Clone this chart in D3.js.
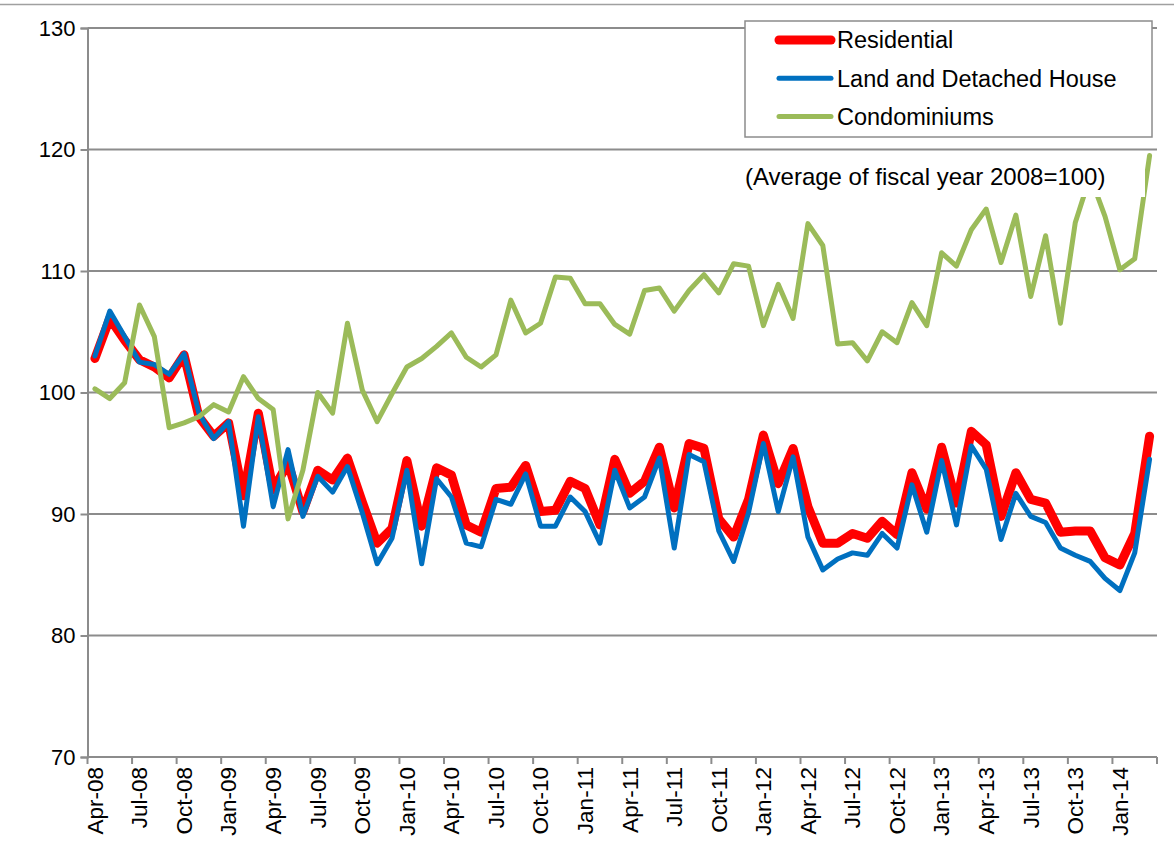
<!DOCTYPE html>
<html>
<head>
<meta charset="utf-8">
<script src="https://cdn.jsdelivr.net/npm/d3@7"></script>
<style>
  body { margin: 0; background: #fff; }
  text { font-family: 'Liberation Sans', Arial, sans-serif; fill: #000; }
</style>
</head>
<body>
<script>
// monthly index, Apr-08 .. Mar-14 (average of FY2008 = 100)
var residential = [
  102.8, 106.1, 104.3, 102.7, 102.1, 101.2, 103.1, 98.0, 96.4, 97.5, 91.5, 98.3,
  92.0, 94.2, 90.2, 93.6, 92.8, 94.6, 91.0, 87.6, 88.8, 94.4, 89.0, 93.8,
  93.2, 89.1, 88.5, 92.1, 92.2, 94.0, 90.2, 90.3, 92.7, 92.1, 89.1, 94.5,
  91.7, 92.7, 95.5, 90.5, 95.8, 95.4, 89.6, 88.1, 91.2, 96.5, 92.5, 95.4,
  90.6, 87.6, 87.6, 88.4, 88.0, 89.4, 88.3, 93.4, 90.4, 95.5, 90.9, 96.8,
  95.7, 89.8, 93.4, 91.2, 90.9, 88.5, 88.6, 88.6, 86.4, 85.8, 88.4, 96.4
];
var landHouse = [
  103.0, 106.7, 104.6, 102.5, 102.3, 101.5, 103.2, 98.3, 96.2, 97.6, 89.0, 98.0,
  90.6, 95.3, 89.8, 93.1, 91.8, 93.9, 90.1, 85.9, 88.0, 93.6, 85.9, 92.9,
  91.4, 87.6, 87.3, 91.2, 90.8, 93.3, 89.0, 89.0, 91.4, 90.2, 87.6, 93.6,
  90.5, 91.4, 94.6, 87.2, 94.9, 94.3, 88.6, 86.1, 90.1, 95.8, 90.2, 94.7,
  88.1, 85.4, 86.3, 86.8, 86.6, 88.4, 87.2, 92.4, 88.5, 94.4, 89.1, 95.6,
  93.7, 87.9, 91.7, 89.8, 89.3, 87.2, 86.6, 86.1, 84.7, 83.7, 86.8, 94.5
];
var condos = [
  100.3, 99.5, 100.8, 107.2, 104.6, 97.1, 97.5, 98.0, 99.0, 98.4, 101.3, 99.5,
  98.6, 89.6, 93.6, 100.0, 98.3, 105.7, 100.2, 97.6, 99.9, 102.1, 102.8, 103.8,
  104.9, 102.9, 102.1, 103.1, 107.6, 104.9, 105.7, 109.5, 109.4, 107.3, 107.3, 105.6,
  104.8, 108.4, 108.6, 106.7, 108.4, 109.7, 108.2, 110.6, 110.4, 105.5, 108.9, 106.1,
  113.9, 112.1, 104.0, 104.1, 102.6, 105.0, 104.1, 107.4, 105.5, 111.5, 110.4, 113.4,
  115.1, 110.7, 114.6, 107.9, 112.9, 105.7, 114.0, 117.8, 114.5, 110.1, 111.0, 119.5
];
var tickLabels = ['Apr-08', 'Jul-08', 'Oct-08', 'Jan-09', 'Apr-09', 'Jul-09', 'Oct-09', 'Jan-10',
  'Apr-10', 'Jul-10', 'Oct-10', 'Jan-11', 'Apr-11', 'Jul-11', 'Oct-11', 'Jan-12',
  'Apr-12', 'Jul-12', 'Oct-12', 'Jan-13', 'Apr-13', 'Jul-13', 'Oct-13', 'Jan-14'];
var yTicks = [70, 80, 90, 100, 110, 120, 130];

var months = d3.timeMonths(new Date(2008, 3, 1), new Date(2014, 3, 1))
  .map(d3.timeFormat('%b-%y'));

var series = [
  { name: 'Residential', values: residential, color: '#ff0000', width: 9 },
  { name: 'Land and Detached House', values: landHouse, color: '#0070c0', width: 5 },
  { name: 'Condominiums', values: condos, color: '#9bbb59', width: 5 }
];

var width = 1174, height = 867;
var plotLeft = 87.5, plotRight = 1157, plotTop = 28, plotBottom = 757;

var svg = d3.select('body').append('svg')
  .attr('width', width)
  .attr('height', height);

var x = d3.scaleBand()
  .domain(months)
  .range([plotLeft, plotRight])
  .padding(0);

var y = d3.scaleLinear()
  .domain([70, 130])
  .range([plotBottom, plotTop]);

var cx = d => x(d) + x.bandwidth() / 2;

// top border of chart area
svg.append('line')
  .attr('x1', 0).attr('x2', width)
  .attr('y1', 4.5).attr('y2', 4.5)
  .attr('stroke', '#a0a0a0').attr('stroke-width', 1.5);

// gridlines
svg.append('g')
  .selectAll('line')
  .data(yTicks.slice(1))
  .join('line')
  .attr('x1', plotLeft).attr('x2', plotRight)
  .attr('y1', d => y(d)).attr('y2', d => y(d))
  .attr('stroke', '#8c8c8c').attr('stroke-width', 2);

// y axis
var yAxis = d3.axisLeft(y).tickValues(yTicks).tickSize(7).tickPadding(5);
var yAxisGroup = svg.append('g')
  .attr('transform', 'translate(' + plotLeft + ',0)')
  .call(yAxis);
yAxisGroup.select('.domain').attr('stroke', '#8c8c8c').attr('stroke-width', 2);
yAxisGroup.selectAll('.tick line').attr('stroke', '#8c8c8c').attr('stroke-width', 2);
yAxisGroup.selectAll('.tick text')
  .style('font-family', "'Liberation Sans', Arial, sans-serif")
  .style('font-size', '22px')
  .attr('fill', '#000');

// x axis: line, ticks between categories, rotated labels
var xAxisGroup = svg.append('g');
xAxisGroup.append('line')
  .attr('x1', plotLeft).attr('x2', plotRight)
  .attr('y1', plotBottom).attr('y2', plotBottom)
  .attr('stroke', '#8c8c8c').attr('stroke-width', 2);

var tickPos = months.filter((m, i) => i % 3 === 0).map(m => x(m)).concat([plotRight]);
xAxisGroup.selectAll('line.tk')
  .data(tickPos)
  .join('line')
  .attr('class', 'tk')
  .attr('x1', d => d).attr('x2', d => d)
  .attr('y1', plotBottom).attr('y2', plotBottom + 7)
  .attr('stroke', '#8c8c8c').attr('stroke-width', 2);

xAxisGroup.selectAll('text')
  .data(tickLabels)
  .join('text')
  .attr('transform', d => 'translate(' + cx(d) + ',' + (plotBottom + 10) + ') rotate(-90)')
  .attr('text-anchor', 'end')
  .attr('dy', '0.35em')
  .style('font-size', '22.5px')
  .text(d => d);

// lines
var line = d3.line()
  .x((d, i) => cx(months[i]))
  .y(d => y(d));

series.forEach(function (s) {
  svg.append('path')
    .datum(s.values)
    .attr('fill', 'none')
    .attr('stroke', s.color)
    .attr('stroke-width', s.width)
    .attr('stroke-linejoin', 'round')
    .attr('stroke-linecap', 'round')
    .attr('d', line);
});

// note box
svg.append('rect')
  .attr('x', 740).attr('y', 154)
  .attr('width', 405).attr('height', 43)
  .attr('fill', '#fff');
svg.append('text')
  .attr('x', 745).attr('y', 185)
  .style('font-size', '24px')
  .text('(Average of fiscal year 2008=100)');

// legend
var legend = svg.append('g');
legend.append('rect')
  .attr('x', 745).attr('y', 21)
  .attr('width', 407).attr('height', 116)
  .attr('fill', '#fff')
  .attr('stroke', '#8c8c8c').attr('stroke-width', 1.5);

var rows = legend.selectAll('g.row')
  .data(series)
  .join('g')
  .attr('class', 'row')
  .attr('transform', (d, i) => 'translate(0,' + (40 + i * 38.3) + ')');

rows.append('line')
  .attr('x1', 779).attr('x2', 831)
  .attr('stroke', d => d.color)
  .attr('stroke-width', d => d.width)
  .attr('stroke-linecap', 'round');

rows.append('text')
  .attr('x', 837).attr('y', 8.3)
  .style('font-size', '23.5px')
  .text(d => d.name);
</script>
</body>
</html>
